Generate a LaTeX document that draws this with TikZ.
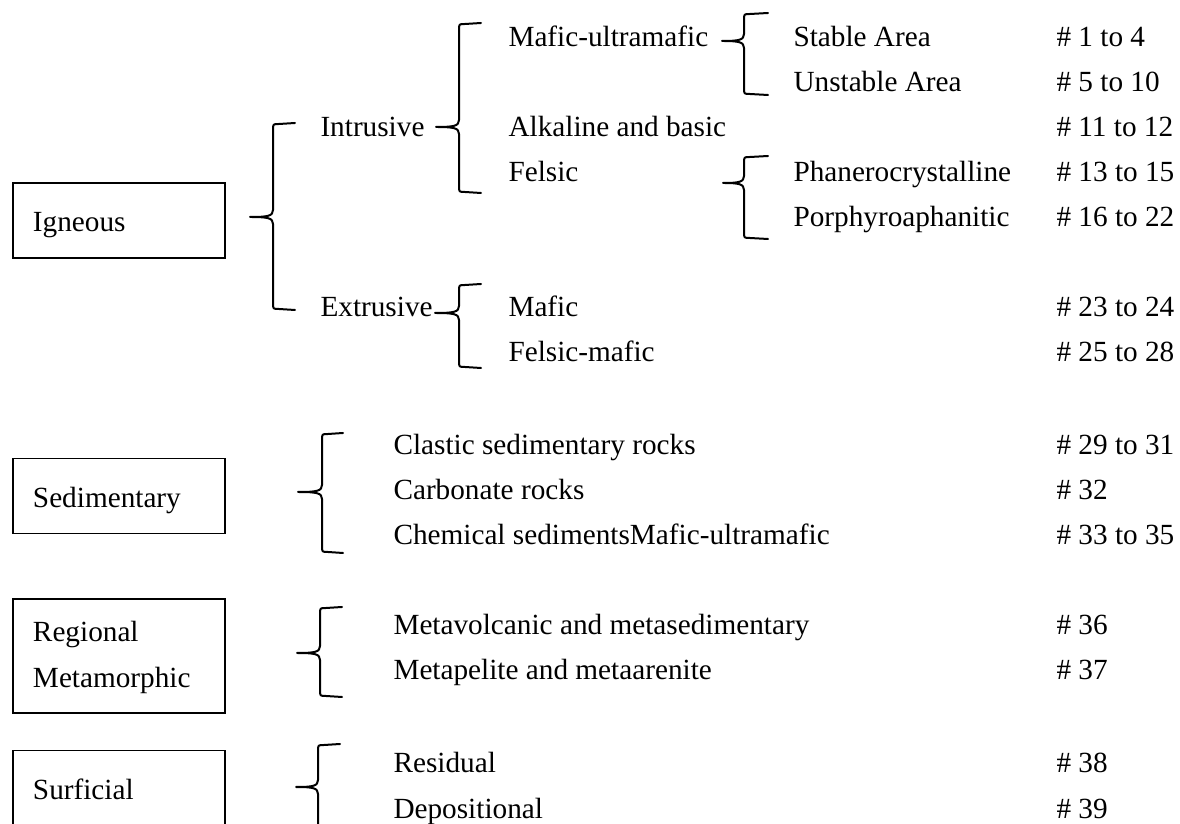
\documentclass[tikz,border=0pt]{standalone}
\usepackage{fontspec}
\setmainfont{Liberation Serif}
\usetikzlibrary{positioning}

\tikzset{
  catbox/.style={draw, line width=0.55pt, text width=68.8pt, inner xsep=8pt, inner ysep=0pt,
    minimum height=30pt, text height=12pt, text depth=3pt, align=left},
  item/.style={anchor=base west, inner sep=0pt},
  curly/.style={line width=0.8pt, line join=round, line cap=round},
}

\begin{document}
\begin{tikzpicture}[x=0.4pt, y=-0.4pt, font=\fontsize{11.7}{18.4}\selectfont]
  \useasboundingbox (0,0) rectangle (1180,824);

  % ── Rock classes ──
  \node[catbox] (igneous)   at (119,220.5) {Igneous};
  \node[catbox] (sedim)     at (119,496)   {Sedimentary};
  \node[catbox, minimum height=45.6pt, text height=11pt, text depth=22.4pt]
    (regional) at (119,656) {Regional\\Metamorphic};
  \node[catbox] (surficial) at (119,788)   {Surficial};

  % ── Igneous subgroups ──
  \node[item] (intr)  at (320,137) {Intrusive};
  \node[item] (extr)  at (320,317) {Extrusive};
  \node[item] (mu)    at (508,47)  {Mafic-ultramafic};
  \node[item] (alk)   at (508,137) {Alkaline and basic};
  \node[item] (fel)   at (508,182) {Felsic};
  \node[item] (maf)   at (508,317) {Mafic};
  \node[item] (fm)    at (508,362) {Felsic-mafic};
  \node[item] (stab)  at (793,47)  {Stable Area};
  \node[item] (unst)  at (793,92)  {Unstable Area};
  \node[item] (phan)  at (793,182) {Phanerocrystalline};
  \node[item] (porph) at (793,227) {Porphyroaphanitic};

  % ── Other subgroups ──
  \node[item] (clas)  at (393,455) {Clastic sedimentary rocks};
  \node[item] (carb)  at (393,500) {Carbonate rocks};
  \node[item] (chem)  at (393,545) {Chemical sedimentsMafic-ultramafic};
  \node[item] (mvol)  at (393,635) {Metavolcanic and metasedimentary};
  \node[item] (mpel)  at (393,680) {Metapelite and metaarenite};
  \node[item] (resid) at (393,773) {Residual};
  \node[item] (depo)  at (393,818) {Depositional};

  % ── Sample numbers ──
  \foreach \y/\txt [count=\i] in {
      47/{1 to 4}, 92/{5 to 10}, 137/{11 to 12}, 182/{13 to 15}, 227/{16 to 22},
      317/{23 to 24}, 362/{25 to 28}, 455/{29 to 31}, 500/{32}, 545/{33 to 35},
      635/{36}, 680/{37}, 773/{38}, 818/{39}} {
    \node[item] (num\i) at (1056,\y) {\# \txt};
  }

  % ── Braces: tip x / stem x / hook x / top / tip y / bottom ──
  \foreach \p/\v/\h/\t/\m/\b in {
      250/273/295/123/217/310,
      436/459/481/23/127/193,
      435/459/481/284/313/368,
      722/744/768/13/41/95,
      723/744/768/156/183/239,
      298/322/343/433/492/553,
      297/320/342/607/653/697,
      296/318/340/744/787/832} {
    \draw[curly] (\h,\t) -- ({\v+6},{\t+1}) .. controls (\v,{\t+1}) .. (\v,{\t+7})
      -- (\v,{\m-7}) .. controls (\v,{\m-1}) and ({\v-5},\m) .. (\p,\m)
      .. controls ({\v-5},\m) and (\v,{\m+1}) .. (\v,{\m+7})
      -- (\v,{\b-7}) .. controls (\v,{\b-1}) .. ({\v+6},{\b-1}) -- (\h,\b);
  }
\end{tikzpicture}
\end{document}
